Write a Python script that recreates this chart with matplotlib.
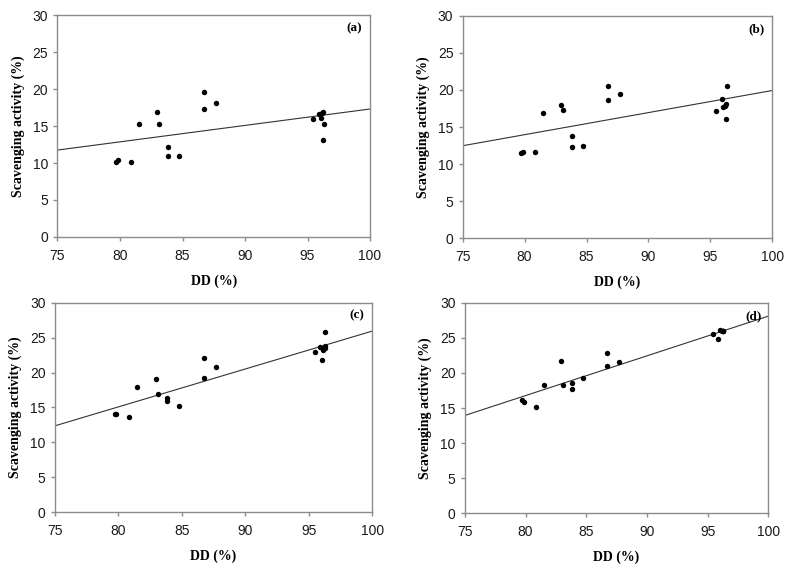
import numpy as np
import matplotlib
matplotlib.use("Agg")
from matplotlib import pyplot as plt

# DD (%) values, shared by every panel
dd = [79.7, 79.85, 80.85, 81.5, 82.95, 83.12, 83.8, 83.8, 84.75, 86.75, 86.75, 87.7,
      95.45, 95.9, 96.05, 96.15, 96.25, 96.25, 96.3]

# Scavenging activity (%) for each panel
scav_a = [10.2, 10.4, 10.1, 15.3, 16.95, 15.3, 12.2, 11.0, 11.0, 19.6, 17.3, 18.1,
          16.0, 16.6, 16.1, 16.7, 16.95, 13.1, 15.3]
scav_b = [11.55, 11.65, 11.65, 16.85, 18.0, 17.25, 13.8, 12.35, 12.45, 20.5, 18.6, 19.45,
          17.15, 18.8, 17.75, 17.9, 18.05, 16.15, 20.5]
scav_c = [14.05, 14.1, 13.65, 18.0, 19.1, 16.9, 16.3, 16.0, 15.15, 22.15, 19.2, 20.85,
          23.0, 23.6, 21.8, 23.2, 23.45, 25.85, 23.85]
scav_d = [16.1, 15.85, 15.15, 18.3, 21.7, 18.3, 18.55, 17.7, 19.3, 22.8, 21.0, 21.55,
          25.6, 24.85, 26.1, 26.0, 26.0, 25.95, 26.0]

# linear trend lines: value at DD=75 and slope
fit_at_75 = [11.75, 12.48, 12.37, 13.95]
fit_slope = [0.222, 0.298, 0.543, 0.566]

panel_tags = ["(a)", "(b)", "(c)", "(d)"]
x_ticks = [75, 80, 85, 90, 95, 100]
y_ticks = [0, 5, 10, 15, 20, 25, 30]

# axes boxes in figure fractions
boxes = [
    [0.0726, 0.5857, 0.3946, 0.3880],
    [0.5842, 0.5834, 0.3910, 0.3890],
    [0.0692, 0.1044, 0.4010, 0.3664],
    [0.5870, 0.1026, 0.3830, 0.3680],
]

serif = "Liberation Serif"
sans = "Liberation Sans"

fig = plt.figure(figsize=(7.92, 5.72), dpi=100)
series = [scav_a, scav_b, scav_c, scav_d]

for i, ys in enumerate(series):
    ax = fig.add_axes(boxes[i])
    ax.plot(dd, ys, "o", color="black", markersize=3.9, markeredgewidth=0, zorder=3)

    # trend line
    line_x = np.array([75, 100])
    ax.plot(line_x, fit_at_75[i] + fit_slope[i] * (line_x - 75), "-", color="#333333", linewidth=0.8)

    ax.set_xlim(75, 100)
    ax.set_ylim(0, 30)
    ax.set_xticks(x_ticks)
    ax.set_yticks(y_ticks)
    for s in ax.spines.values():
        s.set_color("#8c8c8c")
        s.set_linewidth(1.0)
    ax.tick_params(direction="out", length=3, width=1, color="#8c8c8c", labelsize=10, labelcolor="#1a1a1a")
    ax.tick_params(axis="x", pad=5.5)
    ax.tick_params(axis="y", pad=3.7)
    for lab in ax.get_xticklabels() + ax.get_yticklabels():
        lab.set_fontfamily(sans)

    ax.set_xlabel("DD (%)", fontfamily=serif, fontweight="bold", fontsize=10, labelpad=8.5)
    ax.set_ylabel("Scavenging activity (%)", fontfamily=serif, fontweight="bold", fontsize=10, labelpad=5.5)
    ax.text(98.75, 28.15, panel_tags[i], ha="center", va="center",
            fontfamily=serif, fontweight="bold", fontsize=9.5)

fig.savefig("out.png", dpi=100)
